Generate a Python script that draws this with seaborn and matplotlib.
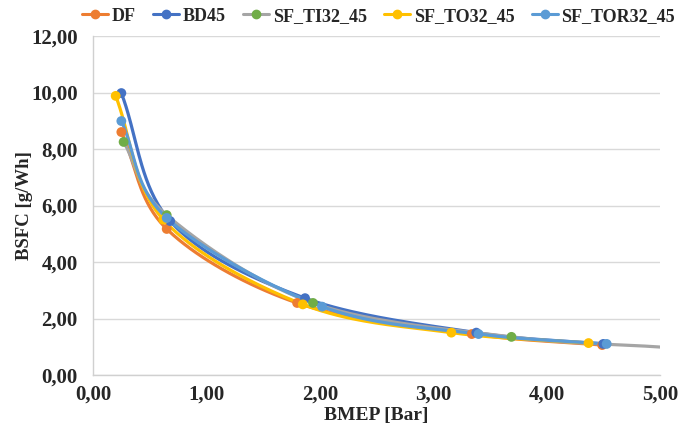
import numpy as np
import pandas as pd
import matplotlib
matplotlib.use("Agg")
import matplotlib.pyplot as plt
import seaborn as sns
from matplotlib.lines import Line2D
from matplotlib.ticker import FuncFormatter, MultipleLocator

# ---- data ----
series = ["DF", "BD45", "SF_TI32_45", "SF_TO32_45", "SF_TOR32_45"]
df_x = [0.25, 0.65, 1.80, 3.34, 4.49]
df_y = [8.60, 5.17, 2.55, 1.45, 1.06]
bd_x = [0.25, 0.68, 1.87, 3.38, 4.50]
bd_y = [9.98, 5.45, 2.72, 1.50, 1.10]
ti_x = [0.27, 0.65, 1.94, 3.69, 5.00]
ti_y = [8.25, 5.66, 2.55, 1.35, 0.99]
to_x = [0.20, 0.62, 1.85, 3.16, 4.37]
to_y = [9.88, 5.50, 2.50, 1.50, 1.13]
tor_x = [0.25, 0.65, 2.02, 3.40, 4.53]
tor_y = [8.99, 5.56, 2.42, 1.45, 1.10]

xs = [df_x, bd_x, ti_x, to_x, tor_x]
ys = [df_y, bd_y, ti_y, to_y, tor_y]
line_colors = ["#ED7D31", "#4472C4", "#A5A5A5", "#FFC000", "#5B9BD5"]
marker_colors = ["#ED7D31", "#4472C4", "#70AD47", "#FFC000", "#5B9BD5"]
marker_count = [5, 5, 4, 5, 5]


def smooth(x, y, n=40):
    """Bezier smoothing through the points (like Excel smoothed lines)."""
    x = np.asarray(x, float); y = np.asarray(y, float)
    P = np.column_stack([x, y])
    P = np.vstack([P[0] * 2 - P[1], P, P[-1] * 2 - P[-2]])
    out = []
    for i in range(1, len(P) - 2):
        p0, p1, p2, p3 = P[i - 1], P[i], P[i + 1], P[i + 2]
        c1 = p1 + (p2 - p0) / 6.0
        c2 = p2 - (p3 - p1) / 6.0
        t = np.linspace(0, 1, n)[:, None]
        seg = ((1 - t) ** 3) * p1 + 3 * ((1 - t) ** 2) * t * c1 + 3 * (1 - t) * t ** 2 * c2 + t ** 3 * p2
        out.append(seg if i == 1 else seg[1:])
    out = np.vstack(out)
    return out[:, 0], out[:, 1]


sns.set_theme(style="white")
plt.rcParams["font.family"] = ["Liberation Serif", "DejaVu Serif"]
plt.rcParams["font.weight"] = "bold"

fig = plt.figure(figsize=(6.81, 4.29), dpi=100)
ax = fig.add_axes([93 / 681, (429 - 375) / 429, (660 - 93) / 681, (375 - 36) / 429])

for s, x, y, lc, mc, mk in zip(series, xs, ys, line_colors, marker_colors, marker_count):
    sx, sy = smooth(x, y)
    curve = pd.DataFrame({"x": sx, "y": sy})
    sns.lineplot(data=curve, x="x", y="y", ax=ax, color=lc, linewidth=2.3,
                 sort=False, estimator=None, zorder=2)
    pts = pd.DataFrame({"x": x[:mk], "y": y[:mk]})
    sns.scatterplot(data=pts, x="x", y="y", ax=ax, color=mc, s=50,
                    edgecolor="none", linewidth=0, zorder=3)

ax.set_xlim(0, 5)
ax.set_ylim(0, 12)
ax.xaxis.set_major_locator(MultipleLocator(1))
ax.yaxis.set_major_locator(MultipleLocator(2))
fmt = FuncFormatter(lambda v, p: f"{v:.2f}".replace(".", ","))
ax.xaxis.set_major_formatter(fmt)
ax.yaxis.set_major_formatter(fmt)
ax.grid(axis="y", color="#D9D9D9", linewidth=1)
ax.grid(axis="x", visible=False)
ax.set_axisbelow(True)
for side in ["top", "right"]:
    ax.spines[side].set_visible(False)
for side in ["left", "bottom"]:
    ax.spines[side].set_color("#D0D0D0")
    ax.spines[side].set_linewidth(1)
ax.tick_params(axis="both", length=0, labelsize=15)
ax.tick_params(axis="y", pad=11)
ax.tick_params(axis="x", pad=7)
for lab in ax.get_xticklabels() + ax.get_yticklabels():
    lab.set_fontweight("bold")

ax.set_xlabel("BMEP [Bar]", fontsize=14, fontweight="bold")
ax.set_ylabel("BSFC [g/Wh]", fontsize=13.5, fontweight="bold")
ax.xaxis.set_label_coords(0.5, -0.095)
ax.yaxis.set_label_coords(-0.106, 0.5)

handles = [Line2D([0], [0], color=lc, lw=2.2, marker="o", markersize=6,
                  markerfacecolor=mc, markeredgecolor=mc)
           for lc, mc in zip(line_colors, marker_colors)]
fig.legend(handles, series, loc="center", bbox_to_anchor=(0.556, 0.962), ncol=5,
           frameon=False, handlelength=1.45, handletextpad=0.2,
           columnspacing=0.95, prop={"weight": "bold", "size": 13})

fig.savefig("out.png", dpi=100)
